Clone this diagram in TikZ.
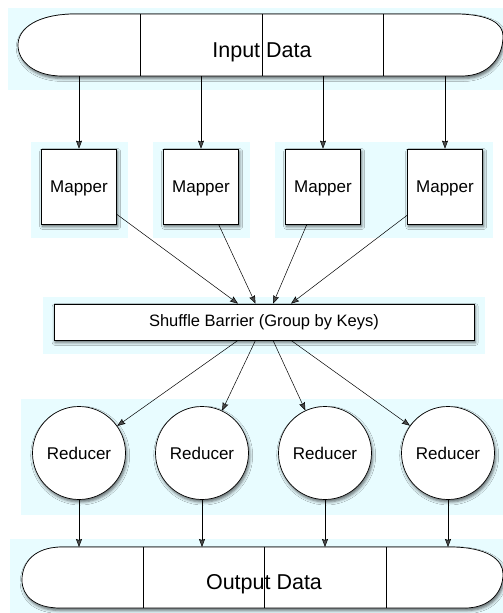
\documentclass[tikz,border=0pt]{standalone}
\usepackage{fontspec}
\setmainfont{Liberation Sans}
\usetikzlibrary{arrows.meta,shadows.blur}
\definecolor{bgcyan}{RGB}{232,252,255}
\tikzset{
  bgfill/.style={fill=bgcyan, draw=none},
  shad/.style={blur shadow={shadow xshift=1.2pt, shadow yshift=-2.5pt, shadow blur radius=3pt, shadow opacity=60}},
  mapperbox/.style={draw=black, line width=0.7pt, fill=white, minimum width=75pt, minimum height=75pt, inner sep=0pt, text depth=0pt, font=\fontsize{17pt}{20pt}\selectfont, shad},
  reducerbox/.style={circle, draw=black, line width=0.7pt, fill=white, minimum size=93pt, inner sep=0pt, font=\fontsize{17pt}{20pt}\selectfont, shad},
  shufflebox/.style={draw=black, line width=0.7pt, fill=white, minimum width=420pt, minimum height=36pt, inner sep=0pt, font=\fontsize{16.5pt}{20pt}\selectfont, shad},
  datashape/.style={draw=black, line width=0.7pt, fill=white, shad},
  divider/.style={draw=black, line width=0.7pt},
  bigtext/.style={font=\fontsize{21.5pt}{24pt}\selectfont, inner sep=0pt},
  arr/.style={-{Stealth[length=8pt,width=6pt,inset=1pt]}, line width=0.5pt},
}
\begin{document}
\begin{tikzpicture}[x=1pt,y=-1pt]
\useasboundingbox (0,0) rectangle (503,613);
% backgrounds
\fill[bgfill] (8,8) rectangle (503,90);
\fill[bgfill] (31,142) rectangle (128,238);
\fill[bgfill] (153,142) rectangle (250,238);
\fill[bgfill] (275,142) rectangle (493,238);
\fill[bgfill] (43,297) rectangle (485,354);
\fill[bgfill] (21,399) rectangle (503,515);
\fill[bgfill] (10,539) rectangle (503,613);
% input data
\path[datashape] (75,14) -- (455,14) .. controls (490,14) and (503,24) .. (503,36)
  .. controls (503,58) and (488,76) .. (462,76) -- (62,76)
  .. controls (35,76) and (18,62) .. (18,45) .. controls (18,28) and (38,14) .. (75,14) -- cycle;
\draw[divider] (140,14) -- (140,76);
\draw[divider] (262,14) -- (262,76);
\draw[divider] (383,14) -- (383,76);
\node[bigtext] (intext) at (262,52) {Input Data};
\coordinate (i1) at (79,76);
\coordinate (i2) at (201,76);
\coordinate (i3) at (323,76);
\coordinate (i4) at (445,76);
% mappers
\node[mapperbox] (m1) at (79,186.5) {Mapper};
\node[mapperbox] (m2) at (201,186.5) {Mapper};
\node[mapperbox] (m3) at (323,186.5) {Mapper};
\node[mapperbox] (m4) at (445,186.5) {Mapper};
\foreach \i in {1,2,3,4} \draw[arr] (i\i) -- (m\i);
% shuffle
\node[shufflebox] (sh) at (264,322) {Shuffle Barrier (Group by Keys)};
\draw[arr] (m1) -- ([xshift=-26pt]sh.north);
\draw[arr] (m2) -- ([xshift=-8.5pt]sh.north);
\draw[arr] (m3) -- ([xshift=9pt]sh.north);
\draw[arr] (m4) -- ([xshift=27pt]sh.north);
% reducers
\node[reducerbox] (r1) at (79,453) {Reducer};
\node[reducerbox] (r2) at (202,453) {Reducer};
\node[reducerbox] (r3) at (325,453) {Reducer};
\node[reducerbox] (r4) at (448,453) {Reducer};
\draw[arr] ([xshift=-26pt]sh.south) -- (r1);
\draw[arr] ([xshift=-8.5pt]sh.south) -- (r2);
\draw[arr] ([xshift=9pt]sh.south) -- (r3);
\draw[arr] ([xshift=27pt]sh.south) -- (r4);
% output data
\path[datashape] (62,547) -- (450,547) .. controls (488,547) and (503,560) .. (503,574)
  .. controls (503,592) and (490,608) .. (465,608) -- (60,608)
  .. controls (35,608) and (22,596) .. (22,580) .. controls (22,562) and (35,547) .. (62,547) -- cycle;
\draw[divider] (143,547) -- (143,608);
\draw[divider] (264,547) -- (264,608);
\draw[divider] (386,547) -- (386,608);
\node[bigtext] (outtext) at (264,584) {Output Data};
\coordinate (otop) at (0,547);
\foreach \i in {1,2,3,4} \draw[arr] (r\i) -- (r\i |- otop);
\end{tikzpicture}
\end{document}
